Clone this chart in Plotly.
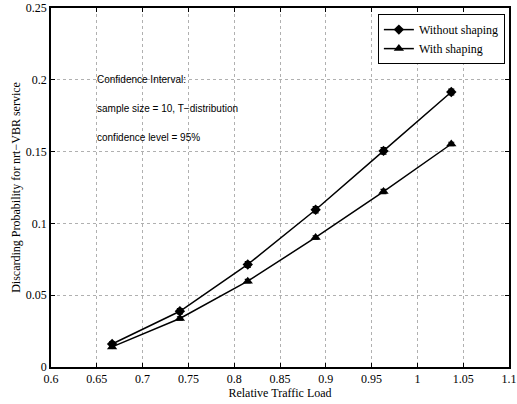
import plotly.graph_objects as go

load = [0.6667, 0.7407, 0.8148, 0.8889, 0.9630, 1.0370]
without_shaping = [0.0160, 0.0388, 0.0714, 0.1095, 0.1505, 0.1915]
without_err = [0.0015, 0.0018, 0.0020, 0.0022, 0.0022, 0.0020]
with_shaping = [0.0140, 0.0338, 0.0598, 0.0902, 0.1222, 0.1553]
with_err = [0.0010, 0.0012, 0.0012, 0.0012, 0.0015, 0.0012]

x_ticks = [0.6, 0.65, 0.7, 0.75, 0.8, 0.85, 0.9, 0.95, 1, 1.05, 1.1]
x_tick_labels = ["0.6", "0.65", "0.7", "0.75", "0.8", "0.85", "0.9", "0.95", "1", "1.05", "1.1"]
y_ticks = [0, 0.05, 0.1, 0.15, 0.2, 0.25]
y_tick_labels = ["0", "0.05", "0.1", "0.15", "0.2", "0.25"]

notes = ["Confidence Interval:", "sample size = 10, T\u2212distribution", "confidence level = 95%"]
note_y = [0.2, 0.1798, 0.1597]

serif = "Liberation Serif, Times New Roman, serif"
sans = "Liberation Sans, Arial, sans-serif"

fig = go.Figure()
fig.add_trace(go.Scatter(
    x=load, y=without_shaping, name="Without shaping", mode="lines+markers",
    line=dict(color="black", width=1.5),
    marker=dict(symbol="diamond", size=8, color="black"),
    error_y=dict(type="data", array=without_err, color="black", thickness=1.2, width=3),
))
fig.add_trace(go.Scatter(
    x=load, y=with_shaping, name="With shaping", mode="lines+markers",
    line=dict(color="black", width=1.5),
    marker=dict(symbol="triangle-up", size=9, color="black"),
    error_y=dict(type="data", array=with_err, color="black", thickness=1.2, width=3),
))

for t, yv in zip(notes, note_y):
    fig.add_annotation(x=0.6505, y=yv, xref="x", yref="y", text=t, showarrow=False,
                       xanchor="left", yanchor="middle", xshift=-2,
                       font=dict(family=sans, size=10, color="black"))

axis_common = dict(
    showline=True, linecolor="black", linewidth=1.5, mirror="allticks",
    ticks="inside", ticklen=4, tickcolor="black",
    showgrid=True, gridcolor="#b0b0b0", griddash="dot", gridwidth=1,
    zeroline=False, tickfont=dict(family=serif, size=12, color="black"),
    automargin=False,
)

fig.update_xaxes(range=[0.6, 1.1], tickvals=x_ticks, ticktext=x_tick_labels,
                 title=dict(text="Relative Traffic Load", font=dict(family=serif, size=12, color="black"), standoff=0),
                 **axis_common)
fig.update_yaxes(range=[0, 0.25], tickvals=y_ticks, ticktext=y_tick_labels,
                 title=dict(text="Discarding Probability for nrt\u2212VBR service", font=dict(family=serif, size=12, color="black"), standoff=3),
                 **axis_common)

fig.update_layout(
    width=517, height=404,
    margin=dict(l=51, r=8, t=8, b=37),
    paper_bgcolor="white", plot_bgcolor="white",
    showlegend=True,
    legend=dict(x=0.991, y=0.983, xanchor="right", yanchor="top",
                bgcolor="white", bordercolor="black", borderwidth=1,
                font=dict(family=serif, size=12, color="black"),
                tracegroupgap=0, itemwidth=30),
    font=dict(family=serif, color="black"),
)

fig.write_html("out.html", config={"displayModeBar": False},
               post_script="document.body.style.margin='0';")
